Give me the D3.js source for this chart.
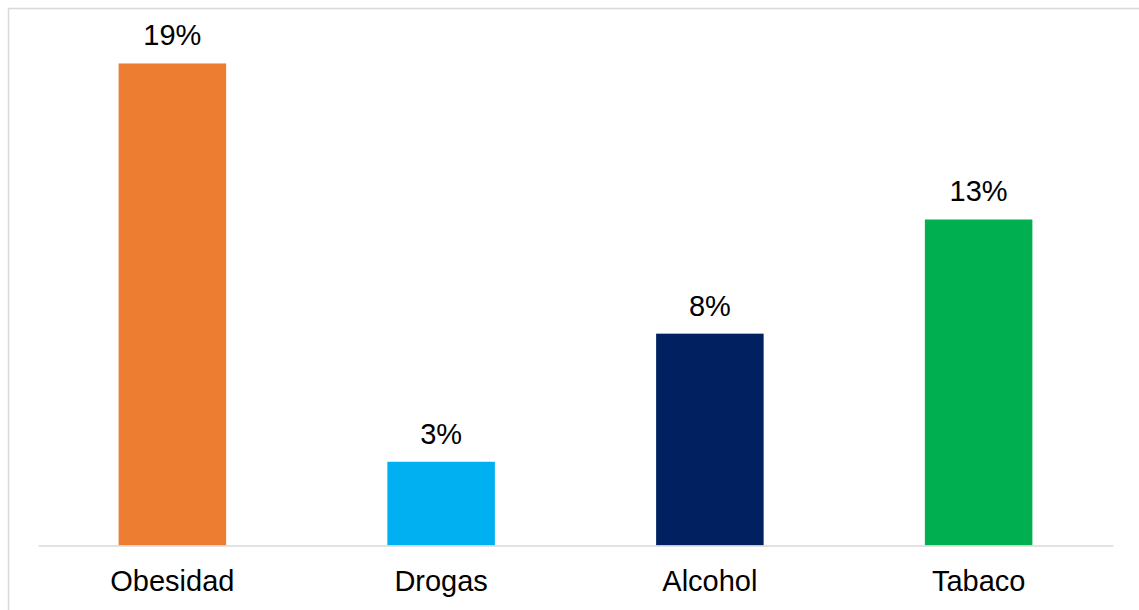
<!DOCTYPE html>
<html>
<head>
<meta charset="utf-8">
<script src="https://cdn.jsdelivr.net/npm/d3@7"></script>
<style>
  body { margin: 0; background: #fff; }
  text { font-family: "Liberation Sans", Arial, sans-serif; }
</style>
</head>
<body>
<div id="chart"></div>
<script>
// Data
var categories = ["Obesidad", "Drogas", "Alcohol", "Tabaco"];
var values = [0.19, 0.033, 0.0835, 0.1285];
var labels = ["19%", "3%", "8%", "13%"];
var colors = ["#ED7D31", "#00B0F0", "#002060", "#00B050"];

var W = 1139, H = 610;
var left = 38, right = 1113, base = 545.5;

var svg = d3.select("#chart").append("svg")
    .attr("width", W)
    .attr("height", H);

// Chart area border (runs off right and bottom edges)
svg.append("rect")
    .attr("x", 8.5).attr("y", 8.5)
    .attr("width", W + 20).attr("height", H + 20)
    .attr("fill", "none")
    .attr("stroke", "#d9d9d9")
    .attr("stroke-width", 1.5);

var x = d3.scaleBand()
    .domain(categories)
    .range([left, right])
    .paddingInner(0.6)
    .paddingOuter(0.3);

var y = d3.scaleLinear()
    .domain([0, 0.2])
    .range([base, base - 507.4]);

var data = categories.map(function(c, i) {
  return {cat: c, value: values[i], label: labels[i], color: colors[i]};
});

svg.selectAll(".bar")
    .data(data)
  .enter().append("rect")
    .attr("class", "bar")
    .attr("x", function(d) { return x(d.cat); })
    .attr("width", x.bandwidth())
    .attr("y", function(d) { return y(d.value); })
    .attr("height", function(d) { return base - y(d.value); })
    .attr("fill", function(d) { return d.color; });

// Value labels
svg.selectAll(".val")
    .data(data)
  .enter().append("text")
    .attr("class", "val")
    .attr("x", function(d) { return x(d.cat) + x.bandwidth() / 2; })
    .attr("y", function(d) { return y(d.value) - 18; })
    .attr("text-anchor", "middle")
    .style("font-size", "29px")
    .attr("fill", "#000")
    .text(function(d) { return d.label; });

// x axis
var xAxis = svg.append("g")
    .attr("transform", "translate(0," + base + ")")
    .call(d3.axisBottom(x).tickSize(0).tickPadding(25));
xAxis.select(".domain").attr("stroke", "#d9d9d9").attr("stroke-width", 1.5);
xAxis.selectAll("text")
    .style("font-size", "29px")
    .style("font-family", "'Liberation Sans', Arial, sans-serif")
    .attr("fill", "#000");
</script>
</body>
</html>
